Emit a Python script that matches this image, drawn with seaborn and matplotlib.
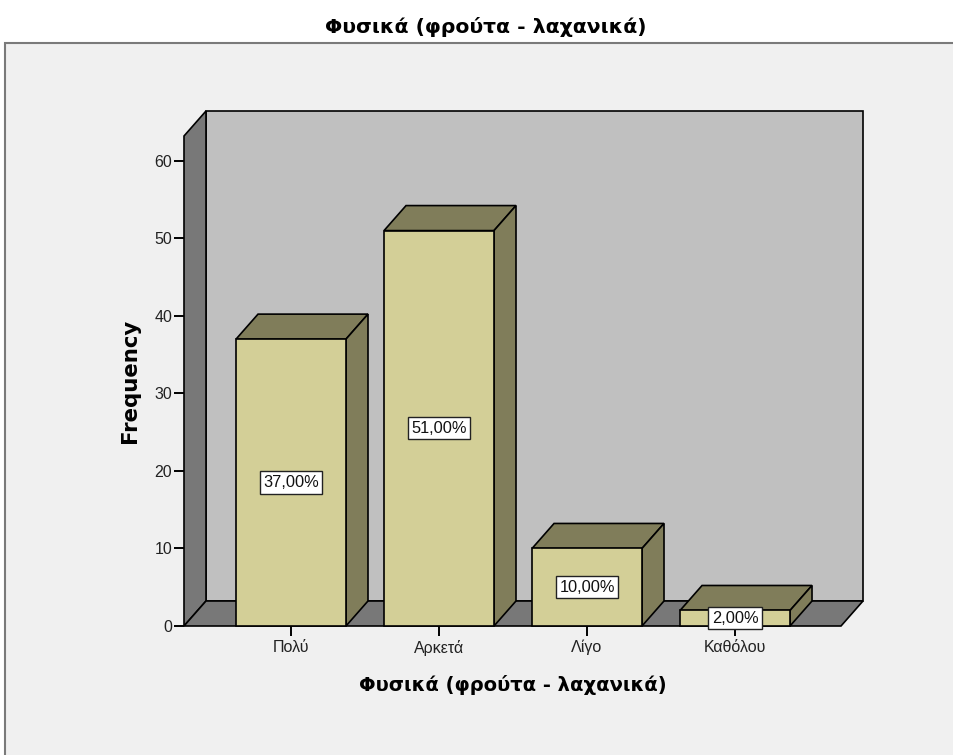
import matplotlib
matplotlib.use("Agg")
import matplotlib.pyplot as plt
from matplotlib.patches import Polygon, Rectangle
import seaborn as sns
import pandas as pd

# Survey responses: fruit & vegetable consumption
categories = ["Πολύ", "Αρκετά", "Λίγο", "Καθόλου"]
counts = [37, 51, 10, 2]
y_ticks = [0, 10, 20, 30, 40, 50, 60]
title = "Φυσικά (φρούτα - λαχανικά)"

total = sum(counts)
pct_labels = [f"{c / total * 100:.2f}%".replace(".", ",") for c in counts]

sns.set_theme(style="white")
plt.rcParams["font.family"] = ["Liberation Sans", "DejaVu Sans"]
BOLD_FONT = ["DejaVu Sans"]

FRONT = "#d3cf97"
SHADE = "#807d5a"
WALL_BACK = "#c0c0c0"
WALL_SIDE = "#787878"
PANEL = "#f0f0f0"

fig = plt.figure(figsize=(9.54, 7.55), dpi=100, facecolor="white")
W, H = 954, 755

# light grey chart panel with a darker frame
fig.patches.append(Rectangle((5 / W, -0.01), 1.0, (H - 43) / H + 0.01,
                             transform=fig.transFigure, facecolor=PANEL,
                             edgecolor="#7a7a7a", lw=1.5, zorder=-10))

ax = fig.add_axes([184 / W, 1 - 626 / H, (841 - 184) / W, (626 - 136) / H])
ax.set_zorder(1)
ax.set_facecolor("none")

df = pd.DataFrame({"cat": categories, "n": counts})
sns.barplot(data=df, x="cat", y="n", order=categories, color=FRONT,
            saturation=1, width=0.743, edgecolor="black", linewidth=1.2, ax=ax)

x_lo, x_hi = -0.723, 3.716
y_lo, y_hi = 0, 63.2
ax.set_xlim(x_lo, x_hi)
ax.set_ylim(y_lo, y_hi)

# depth offset of the 3-D effect, in data units
dx = 22 / 148.0
dy = 25 / 7.75

lw = 1.2
walls = [
    # back wall
    ([(x_lo + dx, dy), (x_hi + dx, dy), (x_hi + dx, y_hi + dy), (x_lo + dx, y_hi + dy)], WALL_BACK),
    # left wall
    ([(x_lo, 0), (x_lo + dx, dy), (x_lo + dx, y_hi + dy), (x_lo, y_hi)], WALL_SIDE),
    # floor
    ([(x_lo, 0), (x_hi, 0), (x_hi + dx, dy), (x_lo + dx, dy)], WALL_SIDE),
]
for pts, col in walls:
    ax.add_patch(Polygon(pts, closed=True, facecolor=col, edgecolor="black",
                         lw=lw, zorder=0.5, clip_on=False))

for p, lab in zip(ax.patches[:len(categories)], pct_labels):
    x0, w, h = p.get_x(), p.get_width(), p.get_height()
    p.set_zorder(3)
    p.set_clip_on(False)
    top = [(x0, h), (x0 + w, h), (x0 + w + dx, h + dy), (x0 + dx, h + dy)]
    side = [(x0 + w, 0), (x0 + w + dx, dy), (x0 + w + dx, h + dy), (x0 + w, h)]
    for pts in (top, side):
        ax.add_patch(Polygon(pts, closed=True, facecolor=SHADE, edgecolor="black",
                             lw=lw, zorder=2.5, clip_on=False))
    ax.text(x0 + w / 2, h / 2, lab, ha="center", va="center", fontsize=11.8,
            color="#111111", zorder=5,
            bbox=dict(boxstyle="square,pad=0.22", facecolor="white",
                      edgecolor="#222222", lw=1.0))

for s in ax.spines.values():
    s.set_visible(False)

ax.set_yticks(y_ticks)
ax.tick_params(axis="y", left=True, length=7, width=1.4, color="black",
               pad=1.5, labelsize=11.5, labelcolor="#222222")
ax.tick_params(axis="x", bottom=True, length=7, width=1.4, color="black",
               pad=3, labelsize=11.5, labelcolor="#222222")

ax.set_xlabel(title, fontsize=14, fontweight="bold", family=BOLD_FONT,
              color="black", labelpad=14)
ax.set_ylabel("Frequency", fontsize=15.3, fontweight="bold", family=BOLD_FONT,
              color="black", labelpad=10)

fig.text(486 / W, 1 - 27 / H, title, ha="center", va="center",
         fontsize=14.7, fontweight="bold", family=BOLD_FONT, color="black")

fig.savefig("out.png", dpi=100, facecolor="white")
